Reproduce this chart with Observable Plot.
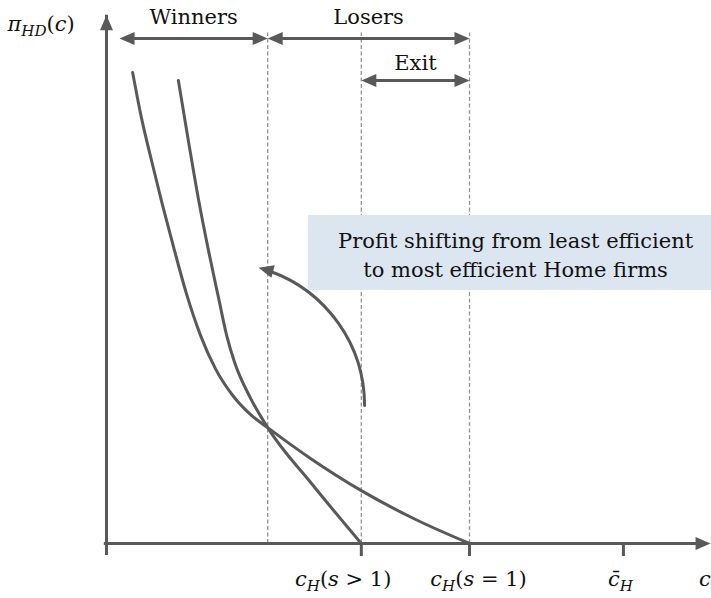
<!DOCTYPE html>
<html><head><meta charset="utf-8">
<script src="https://cdn.jsdelivr.net/npm/d3@7"></script>
<script src="https://cdn.jsdelivr.net/npm/@observablehq/plot@0.6"></script>
<style>body{margin:0;background:#fff} #chart svg{display:block}</style>
</head><body><div id="chart"></div>
<script>
// ---- data (cost c on x, profit on y; c_H(s=1) = 1) ----
// profit curve under s = 1 (flatter one)
const curveS1 = [[0.072,1.301],[0.096,1.177],[0.124,1.058],[0.154,0.936],[0.185,0.818],[0.220,0.691],[0.259,0.575],[0.300,0.483],[0.350,0.406],[0.397,0.356],[0.444,0.320],[0.562,0.235],[0.702,0.146],[0.846,0.069],[1.0,0.0]];
// profit curve under s > 1 (steeper one)
const curveS2 = [[0.198,1.279],[0.226,1.110],[0.253,0.953],[0.281,0.809],[0.309,0.677],[0.331,0.575],[0.353,0.500],[0.397,0.401],[0.444,0.320],[0.567,0.163],[0.702,0.0]];
// vertical dashed cut-offs: winners/losers boundary, c_H(s>1), c_H(s=1)
const cutoffs = [0.444, 0.702, 1.0];
const cutoffTop = 1.41;
// x ticks, their labels and where the labels sit
const xTicks = [0.702, 1.0, 1.424];
const xTickLabels = ["c_{H}(s > 1)", "c_{H}(s = 1)", "c\u0304_{H}"];
const xTickLabelAt = [0.652, 1.025, 1.416];
// range arrows
const rangeLabels = ["Winners", "Losers", "Exit"];
const rangeFrom = [0.036, 0.444, 0.702];
const rangeTo = [0.444, 1.0, 1.0];
const rangeLevel = [1.395, 1.395, 1.279];
const rangeTextY = [1.436, 1.436, 1.307];
// axes extents
const xAxisEnd = 1.664;
const yAxisEnd = 1.459;
// annotation box
const boxText = "Profit shifting from least efficient\nto most efficient Home firms";
const box = {x1: 0.556, x2: 1.67, y1: 0.699, y2: 0.906, tx: 1.127, ty: 0.735};
// curved arrow (profit shifting): start and tip
const shiftFrom = [0.711, 0.381];
const shiftTo = [0.419, 0.762];
// axis titles
const yTitle = "\u03C0_{HD}(c)";
const xTitle = "c";

// ---- build ----
const INK = "#595959";
const ranges = rangeLabels.map((label, i) => ({label, from: rangeFrom[i], to: rangeTo[i], level: rangeLevel[i], ty: rangeTextY[i]}));
const tickLabels = xTickLabels.map((label, i) => ({label, x: xTickLabelAt[i]}));
const head = {draw(ctx) { ctx.moveTo(0, 0); ctx.lineTo(-6.5, 15); ctx.lineTo(6.5, 15); ctx.closePath(); }};
const shift = [{x1: shiftFrom[0], y1: shiftFrom[1], x2: shiftTo[0], y2: shiftTo[1]}];

const chart = Plot.plot({
  width: 711, height: 598,
  marginLeft: 106, marginRight: 0, marginTop: 0, marginBottom: 55,
  x: {domain: [0, 605 / 363], axis: null},
  y: {domain: [0, 1.5], axis: null},
  style: {fontFamily: "DejaVu Serif", background: "white", color: "#111"},
  marks: [
    Plot.ruleX(cutoffs, {y1: 0, y2: cutoffTop, stroke: "#949494", strokeWidth: 1.3, strokeDasharray: "4,2.5"}),
    Plot.rect([box], {x1: "x1", x2: "x2", y1: "y1", y2: "y2", fill: "#dce6f1"}),
    Plot.text([box], {x: "tx", y: "ty", text: () => boxText, fontSize: 21, lineHeight: 1.38, lineAnchor: "bottom", fill: "#111"}),
    Plot.line(curveS1, {x: d => d[0], y: d => d[1], curve: "monotone-x", stroke: INK, strokeWidth: 3}),
    Plot.line(curveS2, {x: d => d[0], y: d => d[1], curve: "monotone-x", stroke: INK, strokeWidth: 3}),
    // curved arrow
    Plot.arrow(shift, {x1: "x1", y1: "y1", x2: "x2", y2: "y2", bend: -37.5, headLength: 0, insetEnd: 12, stroke: INK, strokeWidth: 3}),
    Plot.dot(shift, {x: "x2", y: "y2", symbol: head, rotate: -75, fill: INK}),
    // axes
    Plot.ruleY([0], {x1: -0.006, x2: xAxisEnd, insetRight: 12, stroke: INK, strokeWidth: 3}),
    Plot.ruleX([0], {y1: 0, y2: yAxisEnd, insetTop: 12, stroke: INK, strokeWidth: 3}),
    Plot.dot([[xAxisEnd, 0]], {x: d => d[0], y: d => d[1], symbol: head, rotate: 90, fill: INK}),
    Plot.dot([[0, yAxisEnd]], {x: d => d[0], y: d => d[1], symbol: head, rotate: 0, fill: INK}),
    Plot.axisX(xTicks, {tickSize: 13, stroke: INK, strokeWidth: 3, tickFormat: () => ""}),
    Plot.text(tickLabels, {x: "x", y: 0, dy: 42, text: "label", lineAnchor: "bottom", fontSize: 21, fill: "#111"}),
    // range arrows
    Plot.ruleY(ranges, {y: "level", x1: "from", x2: "to", insetLeft: 12, insetRight: 12, stroke: INK, strokeWidth: 3}),
    Plot.dot(ranges, {x: "from", y: "level", symbol: head, rotate: -90, fill: INK}),
    Plot.dot(ranges, {x: "to", y: "level", symbol: head, rotate: 90, fill: INK}),
    Plot.text(ranges, {x: d => (d.from + d.to) / 2, y: "ty", text: "label", fontSize: 21, lineAnchor: "bottom", fill: "#111"}),
    // axis titles
    Plot.text([yTitle], {x: -0.273, y: 1.417, text: d => d, textAnchor: "start", lineAnchor: "bottom", fontSize: 21, fill: "#111"}),
    Plot.text([xTitle], {x: 1.632, y: 0, dy: 42, text: d => d, textAnchor: "start", lineAnchor: "bottom", fontSize: 21, fill: "#111"})
  ]
});

// math-style labels: italic letters, subscripts written as _{...}
function mathify(svg) {
  d3.select(svg).selectAll("text").each(function() {
    const el = this;
    if (el.childElementCount) return;
    const s = el.textContent;
    if (!/_\{|^c$/.test(s)) return;
    el.textContent = "";
    let shift = 0;
    const parts = s.split(/(_\{[^}]*\})/).filter(Boolean);
    for (const p of parts) {
      const sub = p.startsWith("_{");
      const txt = sub ? p.slice(2, -1) : p;
      const runs = txt.match(/[A-Za-z\u03C0\u0304]+|[^A-Za-z\u03C0\u0304]+/g) || [];
      for (const r of runs) {
        const ts = d3.select(el).append("tspan").text(r);
        if (/[A-Za-z\u03C0]/.test(r)) ts.attr("font-style", "italic");
        if (sub) ts.attr("font-size", "72%");
        const target = sub ? 5 : 0;
        if (target !== shift) { ts.attr("dy", target - shift); shift = target; }
      }
    }
  });
}
mathify(chart);
document.getElementById("chart").appendChild(chart);
</script>
</body></html>
